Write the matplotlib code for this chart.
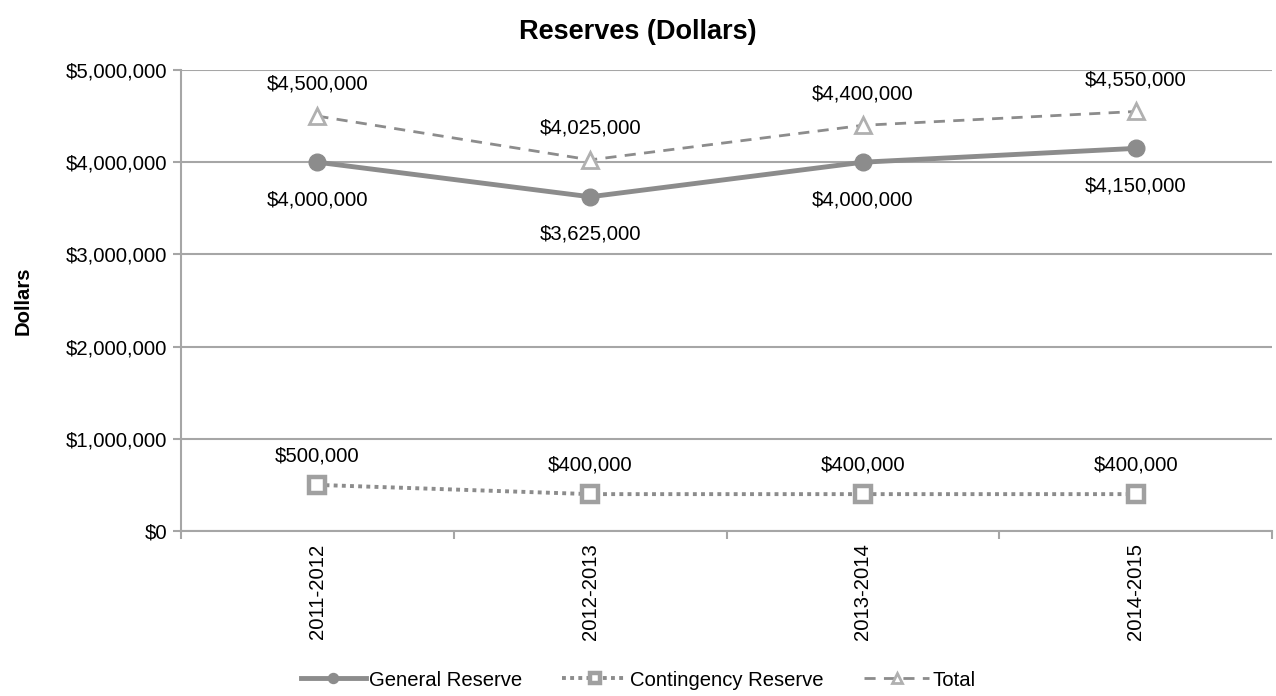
import matplotlib.pyplot as plt
from matplotlib.ticker import FuncFormatter

years = ["2011-2012", "2012-2013", "2013-2014", "2014-2015"]
general = [4000000, 3625000, 4000000, 4150000]
contingency = [500000, 400000, 400000, 400000]
total = [4500000, 4025000, 4400000, 4550000]

plt.rcParams['font.family'] = ['Liberation Sans', 'DejaVu Sans']
fs = 14.6

fig = plt.figure(figsize=(12.76, 6.96), dpi=100)
ax = fig.add_axes([181/1276, 1-531/696, (1272-181)/1276, (531-70)/696])

grey = '#8c8c8c'
x = list(range(len(years)))

ax.plot(x, general, color=grey, lw=3.5, marker='o', ms=12, mfc=grey, mec=grey,
        label='General Reserve', zorder=4)
ax.plot(x, contingency, color=grey, lw=2.8, ls=(0, (1, 1.1)), marker='s', ms=12,
        mfc='white', mec='#a0a0a0', mew=3.2, label='Contingency Reserve', zorder=4)
ax.plot(x, total, color=grey, lw=2, ls=(0, (4, 3)), marker='^', ms=12,
        mfc='white', mec='#b0b0b0', mew=2, label='Total', zorder=4)

def money(v, pos=None):
    return "${:,.0f}".format(v)

for i in x:
    ax.annotate(money(general[i]), (i, general[i]), xytext=(0, -34),
                textcoords='offset points', ha='center', va='bottom', fontsize=fs)
    ax.annotate(money(total[i]), (i, total[i]), xytext=(0, 16),
                textcoords='offset points', ha='center', va='bottom', fontsize=fs)
    ax.annotate(money(contingency[i]), (i, contingency[i]), xytext=(0, 14),
                textcoords='offset points', ha='center', va='bottom', fontsize=fs)

ax.set_xlim(-0.5, 3.5)
ax.set_ylim(0, 5000000)
ax.set_yticks(range(0, 5000001, 1000000))
ax.yaxis.set_major_formatter(FuncFormatter(money))
ax.yaxis.grid(True, color='#a6a6a6', lw=1.5)
ax.set_axisbelow(True)

ax.set_xticks([-0.5, 0.5, 1.5, 2.5, 3.5])
ax.set_xticklabels([])
ax.set_xticks(x, minor=True)
ax.set_xticklabels(years, minor=True, rotation=90, fontsize=fs)
ax.tick_params(axis='x', which='minor', length=0, pad=9)
ax.tick_params(axis='x', which='major', length=6, color='#a6a6a6', width=1.5)
ax.tick_params(axis='y', length=6, color='#a6a6a6', width=1.5, labelsize=fs, pad=4)

for s in ['top', 'right']:
    ax.spines[s].set_visible(False)
for s in ['left', 'bottom']:
    ax.spines[s].set_color('#a6a6a6')
    ax.spines[s].set_linewidth(1.5)

ax.set_ylabel('Dollars', fontsize=fs, fontweight='bold', labelpad=24)
fig.text(0.5, 1-32/696, 'Reserves (Dollars)', ha='center', va='center',
         fontsize=19.5, fontweight='bold')

fig.legend(loc='center', bbox_to_anchor=(0.5, 1-680/696), ncol=3, frameon=False,
           fontsize=fs, handlelength=3.2, columnspacing=2.0, handletextpad=0.15,
           markerscale=0.6)

fig.savefig('out.png', dpi=100)
